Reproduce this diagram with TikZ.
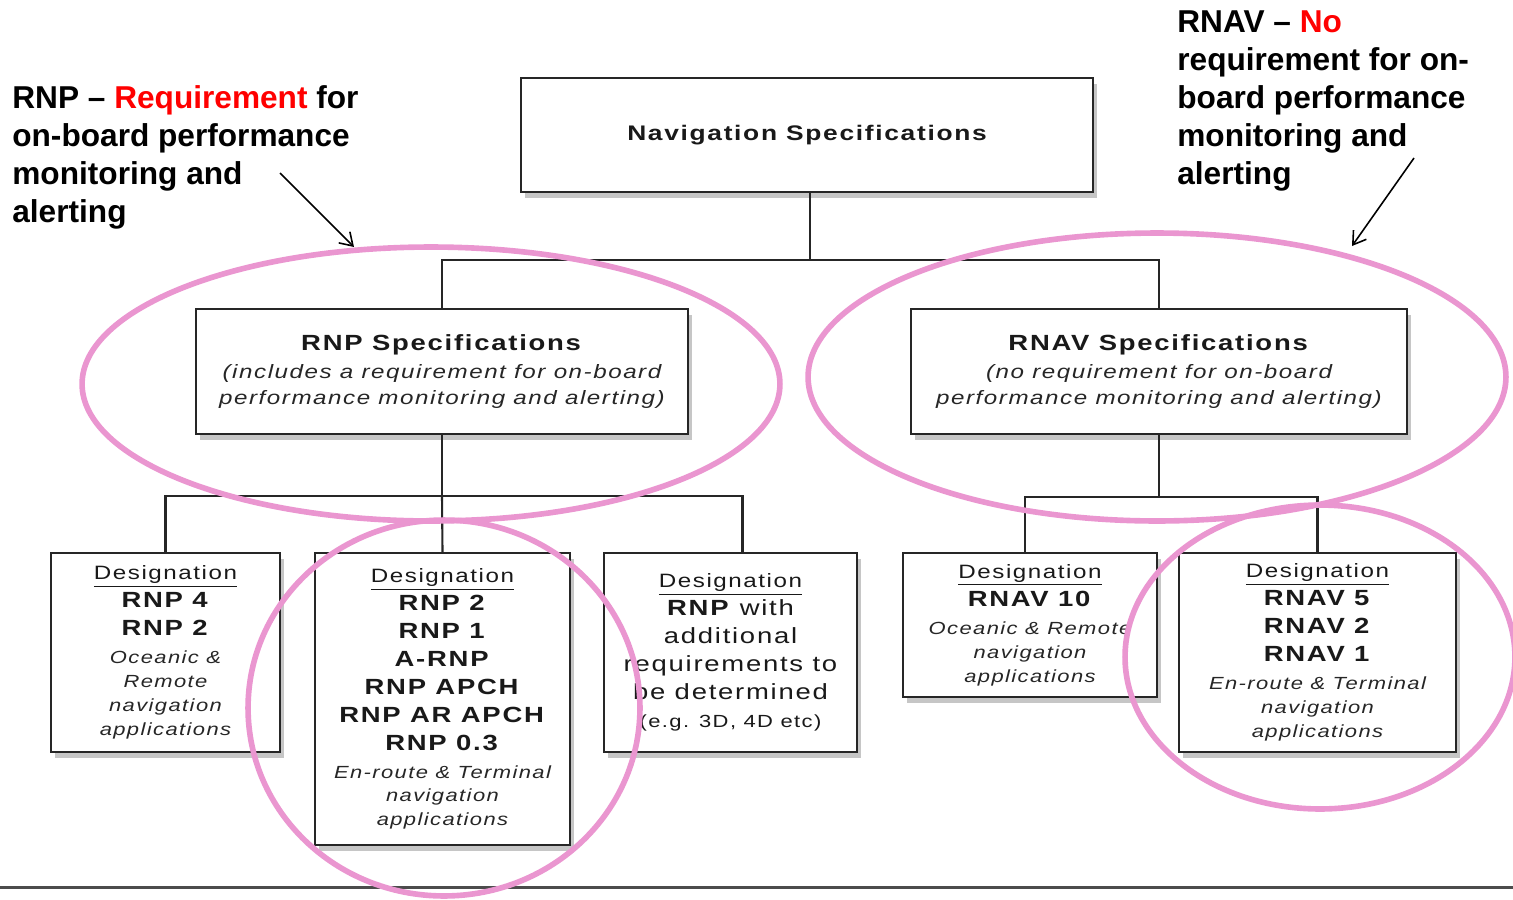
\documentclass[tikz,border=0pt]{standalone}
\usepackage{fontspec}
\setmainfont{Liberation Sans}
\newfontfamily\boxfont[FakeStretch=1.25,LetterSpace=8]{Liberation Sans}
\usetikzlibrary{shadows,arrows.meta}
\definecolor{ringpink}{RGB}{234,150,208}
\definecolor{alertred}{RGB}{255,0,0}
\newcommand{\desig}{{\fontsize{11}{15.9}\selectfont\underline{Designation}}}
\newcommand{\smallit}[1]{{\fontsize{10}{13.6}\selectfont\itshape\color{black!85}#1}}
\newcommand{\specit}[1]{{\fontsize{11}{14.7}\selectfont\itshape\color{black!85}#1}}
\newcommand{\itline}{\\[-2.3pt]}

\begin{document}
\begin{tikzpicture}[x=0.02cm,y=0.02cm]
\tikzstyle{every node}+=[inner sep=0pt]
\tikzstyle{specbox}=[draw=black!85,line width=1.2pt,fill=white,align=center,text=black!90,
  font=\boxfont\fontsize{12.5}{15.9}\selectfont,
  drop shadow={shadow xshift=2.5pt,shadow yshift=-3.5pt,opacity=.45}]
\tikzstyle{link}=[draw=black!85,line width=1.2pt]
\tikzstyle{ring}=[draw=ringpink,line width=3.2pt]
\tikzstyle{note}=[anchor=north west,align=left,font=\bfseries\fontsize{18}{21.7}\selectfont]
\tikzstyle{pointer}=[-{Straight Barb[length=7pt,width=9pt]},line width=0.9pt]
\useasboundingbox (0,0) rectangle (1513,-899);
% top level
\node [specbox,minimum width=11.44cm,minimum height=2.28cm,font=\boxfont\bfseries\fontsize{12}{14}\selectfont] (nav) at (807,-135) {Navigation Specifications};
\node [specbox,minimum width=9.84cm,minimum height=2.5cm] (rnp) at (442,-371.5)
  {\textbf{RNP Specifications}\\ \specit{(includes a requirement for on-board}\\[-1.2pt] \specit{performance monitoring and alerting)}};
\node [specbox,minimum width=9.92cm,minimum height=2.5cm] (rnav) at (1159,-371.5)
  {\textbf{RNAV Specifications}\\ \specit{(no requirement for on-board}\\[-1.2pt] \specit{performance monitoring and alerting)}};
% designations
\node [specbox,minimum width=4.58cm,minimum height=3.98cm] (d1) at (165.5,-652.5)
  {\desig\\ \textbf{RNP 4}\\ \textbf{RNP 2}\\ \smallit{Oceanic \&}\itline \smallit{Remote}\itline \smallit{navigation}\itline \smallit{applications}};
\node [specbox,minimum width=5.1cm,minimum height=5.84cm] (d2) at (442.5,-699)
  {\desig\\ \textbf{RNP 2}\\ \textbf{RNP 1}\\ \textbf{A-RNP}\\ \textbf{RNP APCH}\\ \textbf{RNP AR APCH}\\ \textbf{RNP 0.3}\\ \smallit{En-route \& Terminal}\itline \smallit{navigation}\itline \smallit{applications}};
\node [specbox,minimum width=5.06cm,minimum height=3.98cm] (d3) at (730.5,-652.5)
  {\desig\\ \textbf{RNP} with\\ additional\\ requirements to\\ be determined\\ {\fontsize{10}{12}\selectfont(e.g. 3D, 4D etc)}};
\node [specbox,minimum width=5.08cm,minimum height=2.88cm] (d4) at (1030,-625)
  {\desig\\ \textbf{RNAV 10}\\ \smallit{Oceanic \& Remote}\itline \smallit{navigation}\itline \smallit{applications}};
\node [specbox,minimum width=5.54cm,minimum height=3.98cm] (d5) at (1317.5,-652.5)
  {\desig\\ \textbf{RNAV 5}\\ \textbf{RNAV 2}\\ \textbf{RNAV 1}\\ \smallit{En-route \& Terminal}\itline \smallit{navigation}\itline \smallit{applications}};
% tree
\coordinate (navjoin) at (810,-260);
\coordinate (rnpjoin) at (442,-496);
\coordinate (rnavjoin) at (1159,-497);
\draw [link] (navjoin |- nav.south) -- (navjoin);
\draw [link] (rnp.north) |- (navjoin) -| (rnav.north);
\draw [link] (rnp.south) -- (rnpjoin);
\draw [link] (d1.north) |- (rnpjoin) -| ([xshift=6.8pt]d3.north);
\draw [link] (rnpjoin) -- (d2.north);
\draw [link] (rnav.south) -- (rnavjoin);
\draw [link] ([xshift=-2.8pt]d4.north) |- (rnavjoin) -| (d5.north);
% notes
\node [note] (rnpnote) at (12,-85) {RNP – \textcolor{alertred}{Requirement} for\\ on-board performance\\ monitoring and\\ alerting};
\node [note] (rnavnote) at (1177,-10) {RNAV – \textcolor{alertred}{No}\\ requirement for on-\\ board performance\\ monitoring and\\ alerting};
\coordinate (rnptail) at (280,-173);
\coordinate (rnphead) at (354,-247);
\coordinate (rnavtail) at (1414,-158);
\coordinate (rnavhead) at (1352,-246);
\draw [pointer] (rnptail) -- (rnphead);
\draw [pointer] (rnavtail) -- (rnavhead);
% footer rule
\coordinate (rulestart) at (0,-887);
\coordinate (ruleend) at (1513,-887);
\draw [draw=black!70,line width=1.7pt] (rulestart) -- (ruleend);
% rings
\draw [ring] (431,-384) ellipse [x radius=6.98cm, y radius=2.74cm];
\draw [ring] (1157,-377) ellipse [x radius=6.98cm, y radius=2.88cm];
\draw [ring] (444,-708) ellipse [x radius=3.92cm, y radius=3.76cm];
\draw [ring] (1320,-657) ellipse [x radius=3.9cm, y radius=3.04cm];
\end{tikzpicture}
\end{document}
